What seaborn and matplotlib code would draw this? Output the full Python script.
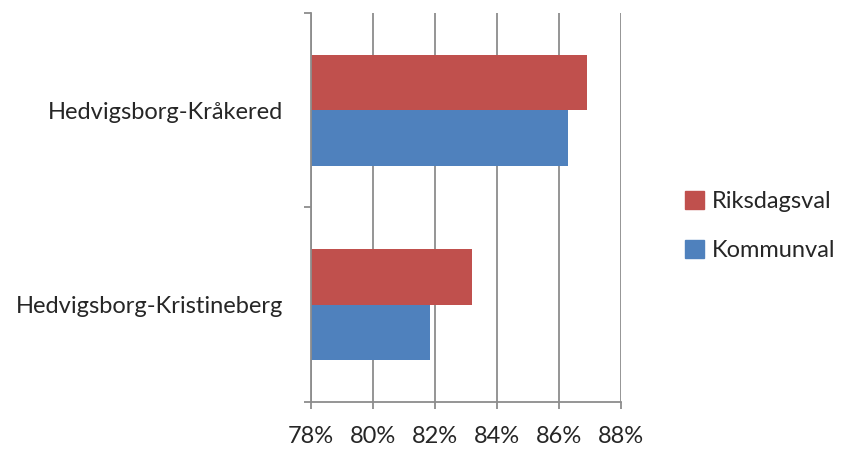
import pandas as pd
import matplotlib
matplotlib.use('Agg')
import matplotlib.pyplot as plt
import seaborn as sns
from matplotlib.patches import Patch

areas = ['Hedvigsborg-Kråkered', 'Hedvigsborg-Kristineberg']
series = ['Riksdagsval', 'Kommunval']
riksdagsval = [86.9, 83.2]
kommunval = [86.3, 81.85]
x_ticks = [78, 80, 82, 84, 86, 88]
x_labels = ['78%', '80%', '82%', '84%', '86%', '88%']

colors = {'Riksdagsval': '#C0504D', 'Kommunval': '#4F81BD'}

df = pd.DataFrame({
    'area': areas * 2,
    'val': series[0:1] * 2 + series[1:2] * 2,
    'pct': riksdagsval + kommunval,
})

sns.set_style('white')
plt.rcParams['font.family'] = ['Lato', 'DejaVu Sans']

fig = plt.figure(figsize=(8.41, 4.49), dpi=100)
ax = fig.add_axes([311 / 841, 1 - 402 / 449, 310 / 841, 389 / 449])

sns.barplot(data=df, y='area', x='pct', hue='val', order=areas, hue_order=series,
            palette=colors, orient='h', width=0.57, saturation=1, ax=ax,
            edgecolor='none', legend=False)

ax.set_xlim(78, 88)
ax.set_ylim(1.5, -0.5)
ax.set_xticks(x_ticks)
ax.set_xticklabels(x_labels, fontsize=17)
ax.xaxis.grid(True, color='#8c8c8c', linewidth=1.3)
ax.set_axisbelow(True)

# category boundaries get the ticks, names sit between them
ax.set_yticks([-0.5, 0.5, 1.5])
ax.set_yticklabels([])
ax.set_yticks([0, 1], minor=True)
ax.set_yticklabels(areas, minor=True, fontsize=17)
ax.tick_params(axis='y', which='minor', length=0, pad=20)
ax.tick_params(axis='y', which='major', length=5, width=1.3, color='#8c8c8c', left=True)
ax.tick_params(axis='x', length=5, width=1.3, color='#8c8c8c', bottom=True, pad=12)
ax.set_xlabel('')
ax.set_ylabel('')

for s in ['top', 'right']:
    ax.spines[s].set_visible(False)
for s in ['left', 'bottom']:
    ax.spines[s].set_color('#8c8c8c')
    ax.spines[s].set_linewidth(1.3)

handles = [Patch(color=colors[s], label=s) for s in series]
fig.legend(handles=handles, loc='center left', bbox_to_anchor=(685 / 841, 1 - 226 / 449),
           frameon=False, fontsize=17, handlelength=0.8, handleheight=0.8,
           handletextpad=0.35, labelspacing=1.15, borderpad=0, borderaxespad=0)

fig.savefig('out.png', dpi=100)
